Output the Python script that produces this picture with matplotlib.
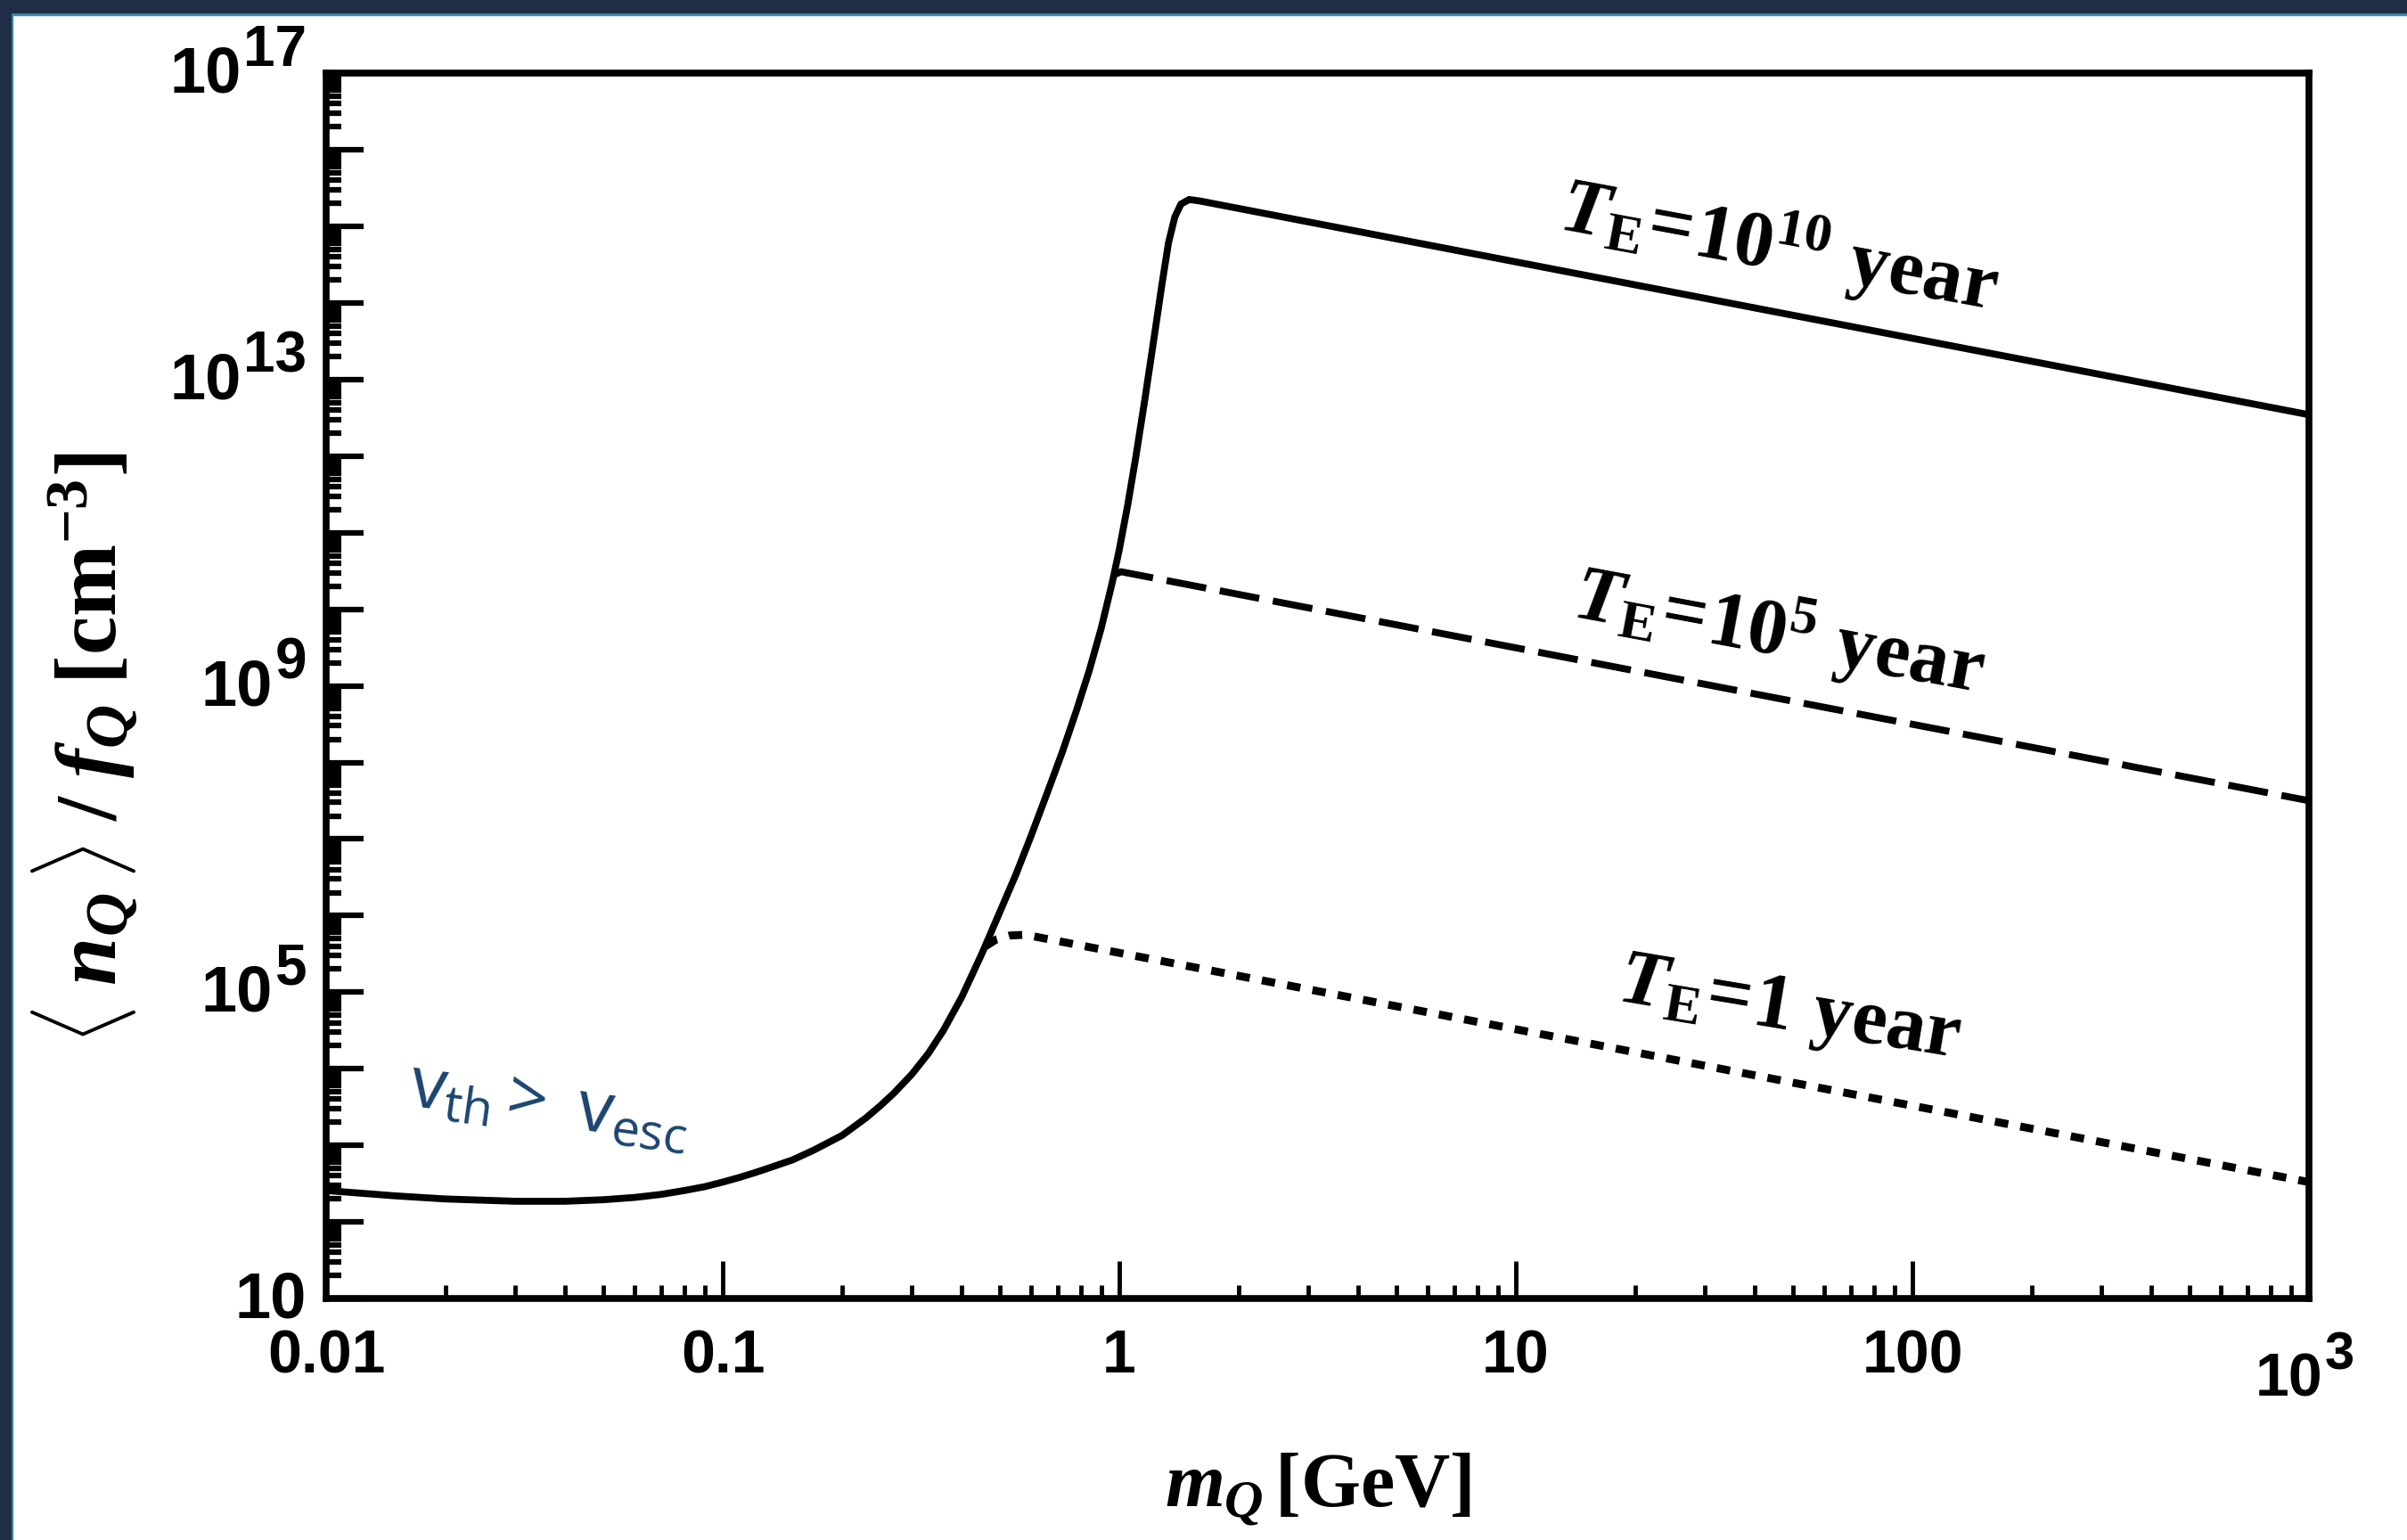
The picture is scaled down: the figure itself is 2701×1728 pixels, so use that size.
import numpy as np
import matplotlib
matplotlib.use("Agg")
import matplotlib.pyplot as plt
from matplotlib.patches import Rectangle
from matplotlib.ticker import LogLocator, NullFormatter
from matplotlib.transforms import ScaledTranslation, blended_transform_factory

# Fonts: serif bold for the physics labels, sans bold for tick numbers
plt.rcParams["mathtext.fontset"] = "custom"
plt.rcParams["mathtext.rm"] = "Liberation Serif:bold"
plt.rcParams["mathtext.it"] = "Liberation Serif:italic:bold"
plt.rcParams["mathtext.bf"] = "Liberation Serif:bold"
plt.rcParams["mathtext.sf"] = "Open Sans"

# DATA: mass m_Q [GeV] and log10(<n_Q>/f_Q [cm^-3]) for each storage time
# T_E = 1e10 year (solid), includes the rising low-mass branch
m_long = [0.01, 0.015, 0.02, 0.03, 0.04, 0.05, 0.06, 0.07, 0.08, 0.09, 0.1,
          0.11, 0.12, 0.13, 0.15, 0.17, 0.2, 0.23, 0.25, 0.27, 0.3, 0.33,
          0.36, 0.4, 0.45, 0.5, 0.55, 0.6, 0.66, 0.72, 0.78, 0.84, 0.9,
          0.96, 1.0, 1.05, 1.1, 1.16, 1.22, 1.28, 1.33, 1.38, 1.43, 1.5,
          1.6, 1000]
logn_long = [2.41, 2.34, 2.30, 2.27, 2.27, 2.29, 2.32, 2.36, 2.41, 2.46, 2.52,
             2.58, 2.64, 2.70, 2.81, 2.94, 3.13, 3.36, 3.52, 3.68, 3.93, 4.20,
             4.50, 4.93, 5.50, 6.05, 6.55, 7.05, 7.62, 8.15, 8.68, 9.20, 9.75,
             10.35, 10.78, 11.36, 11.98, 12.74, 13.50, 14.23, 14.78, 15.12,
             15.29, 15.35, 15.33, 12.54]

# T_E = 1e5 year (dashed)
m_mid = [0.97, 1.01, 1000]
logn_mid = [10.45, 10.49, 7.50]

# T_E = 1 year (dotted)
m_short = [0.46, 0.49, 0.53, 0.58, 0.65, 1000]
logn_short = [5.60, 5.69, 5.74, 5.75, 5.70, 2.52]

x_ticks = [0.01, 0.1, 1, 10, 100, 1000]
x_ticklabels = ["0.01", "0.1", "1", "10", "100", ""]
y_decades = list(range(1, 18))
y_label_exponents = [1, 5, 9, 13, 17]

NAVY = "#1e2e47"
TEAL = "#3f8db3"
BLUE_TXT = "#1b4570"
TICK_FONT = dict(family="Liberation Sans", weight="bold")

fig = plt.figure(figsize=(27.01, 17.28), dpi=100)
ax = fig.add_axes([0.1355, 0.1568, 0.8238, 0.7957])

ax.plot(m_long, 10 ** np.array(logn_long), color="black", lw=5.6,
        solid_joinstyle="round", zorder=3)
ax.plot(m_mid, 10 ** np.array(logn_mid), color="black", lw=5.6,
        linestyle=(0, (5.8, 2.0)), zorder=3)
ax.plot(m_short, 10 ** np.array(logn_short), color="black", lw=6.4,
        linestyle=(0, (1.7, 1.55)), zorder=3)

ax.set_xscale("log")
ax.set_yscale("log")
ax.set_xlim(0.01, 1000)
ax.set_ylim(10, 1e17)

ax.set_xticks(x_ticks, labels=x_ticklabels)
ax.xaxis.set_minor_locator(LogLocator(base=10, subs=np.arange(2, 10)))
ax.xaxis.set_minor_formatter(NullFormatter())
ax.set_yticks([10.0 ** k for k in y_decades], labels=["" for k in y_decades])
ax.yaxis.set_minor_locator(LogLocator(base=10, subs=np.arange(2, 10), numticks=40))
ax.yaxis.set_minor_formatter(NullFormatter())
for lab in ax.get_xticklabels():
    lab.set_fontfamily(TICK_FONT["family"])
    lab.set_fontweight(TICK_FONT["weight"])

ax.tick_params(which="both", direction="in", top=False, right=False)
ax.tick_params(axis="x", which="major", length=30, width=3.5, pad=24, labelsize=49)
ax.tick_params(axis="x", which="minor", length=11, width=3.5)
ax.tick_params(axis="y", which="major", length=30, width=4.5)
ax.tick_params(axis="y", which="minor", length=12, width=4.5)

for side in ["left", "right", "top", "bottom"]:
    ax.spines[side].set_linewidth(5.5)

renderer = fig.canvas.get_renderer()


def offset(base, dx_pt, dy_pt):
    return base + ScaledTranslation(dx_pt / 72, dy_pt / 72, fig.dpi_scale_trans)


# power-of-ten labels on the y axis: "10" with a large raised exponent
y_tr = blended_transform_factory(ax.transAxes, ax.transData)
for k in y_label_exponents:
    right = -16
    if k > 1:
        exp_txt = ax.text(0, 10.0 ** k, str(k), transform=offset(y_tr, right, 6),
                          ha="right", va="baseline", fontsize=46, **TICK_FONT)
        w = exp_txt.get_window_extent(renderer=renderer).width * 72 / fig.dpi
        right = right - w - 1.5
    ax.text(0, 10.0 ** k, "10", transform=offset(y_tr, right, -15.5),
            ha="right", va="baseline", fontsize=52, **TICK_FONT)

# 10^3 label at the right end of the x axis
x_tr = blended_transform_factory(ax.transData, ax.transAxes)
ax.text(1000, 0, "10", transform=offset(x_tr, 11, -79), ha="right", va="baseline",
        fontsize=49, **TICK_FONT)
ax.text(1000, 0, "3", transform=offset(x_tr, 12.5, -57), ha="left", va="baseline",
        fontsize=43, **TICK_FONT)

ax.set_xlabel(r"$m_Q\,[\mathrm{GeV}]$", fontsize=62)
ax.xaxis.set_label_coords(0.5, -0.125)
ax.set_ylabel(r"$\langle\;n_Q\,\rangle\;/\;f_Q\;[\mathrm{cm}^{-3}]$", fontsize=70)
ax.yaxis.set_label_coords(-0.094, 0.449)

# curve labels
ax.text(46, 10 ** 14.74, r"$T_{\mathrm{E}}\!=\!\mathrm{10^{10}\ year}$", fontsize=64,
        rotation=-10.5, rotation_mode="anchor", ha="center", va="center")
ax.text(46, 10 ** 9.69, r"$T_{\mathrm{E}}\!=\!\mathrm{10^{5}\ year}$", fontsize=64,
        rotation=-10.5, rotation_mode="anchor", ha="center", va="center")
ax.text(49, 10 ** 4.78, r"$T_{\mathrm{E}}\!=\!\mathrm{1\ year}$", fontsize=64,
        rotation=-9.5, rotation_mode="anchor", ha="center", va="center")
ax.text(0.0366, 10 ** 3.52, r"$\mathsf{v}_{\mathsf{th}}\mathsf{>\ v}_{\mathsf{esc}}$",
        fontsize=58, color=BLUE_TXT, rotation=-8, rotation_mode="anchor",
        ha="center", va="center")

# dark slide frame along the top and left edges
H, W = 1728.0, 2701.0
fig.add_artist(Rectangle((0, 1 - 17 / H), 1, 17 / H, transform=fig.transFigure,
                         color=TEAL, zorder=10))
fig.add_artist(Rectangle((0, 1 - 14 / H), 1, 14 / H, transform=fig.transFigure,
                         color=NAVY, zorder=11))
fig.add_artist(Rectangle((0, 0), 14 / W, 1, transform=fig.transFigure,
                         color=TEAL, zorder=10))
fig.add_artist(Rectangle((0, 0), 12 / W, 1, transform=fig.transFigure,
                         color=NAVY, zorder=11))

fig.savefig("out.png", dpi=100)
